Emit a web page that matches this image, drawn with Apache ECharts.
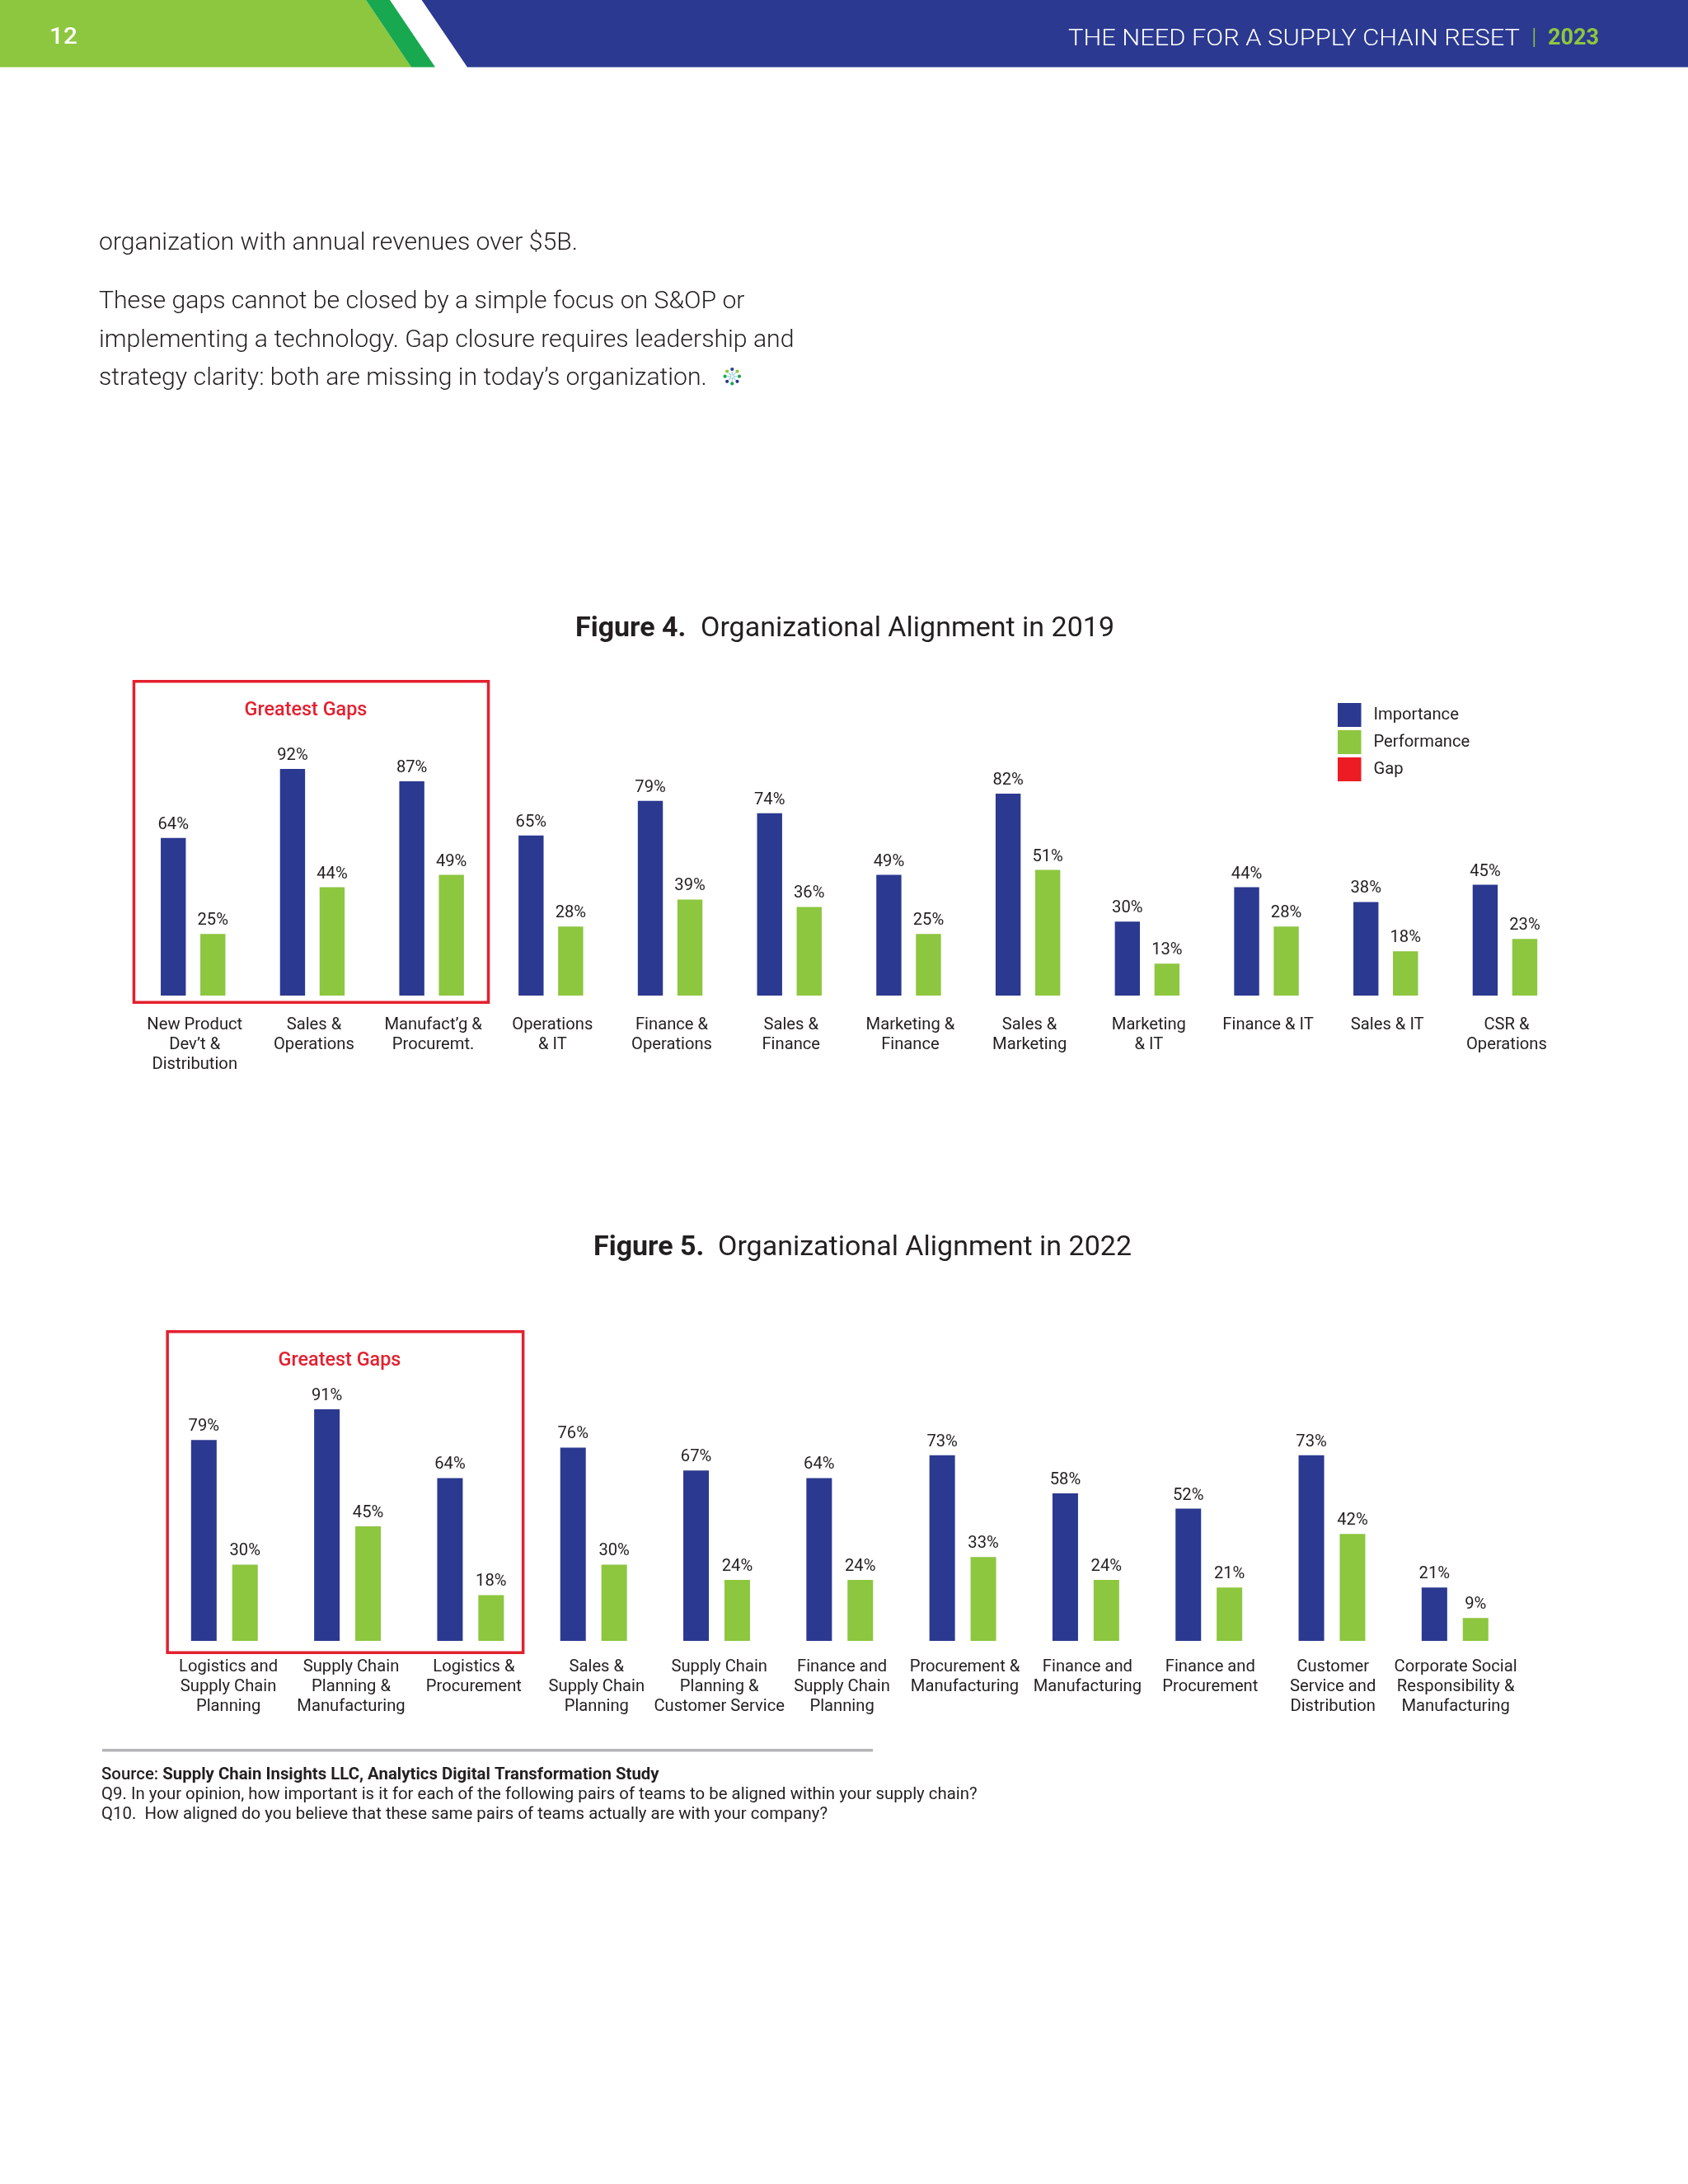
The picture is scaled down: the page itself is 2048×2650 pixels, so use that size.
<!DOCTYPE html>
<html>
<head>
<meta charset="utf-8">
<style>html,body{margin:0;padding:0;background:#fff}#c{width:2048px;height:2650px}</style>
<script src="https://cdn.jsdelivr.net/npm/echarts@6/dist/echarts.min.js"></script>
</head>
<body>
<div id="c"></div>
<script>
const categories2019 = ["New Product\nDev’t &\nDistribution","Sales &\nOperations","Manufact’g &\nProcuremt.","Operations\n& IT","Finance &\nOperations","Sales &\nFinance","Marketing &\nFinance","Sales &\nMarketing","Marketing\n& IT","Finance & IT","Sales & IT","CSR &\nOperations"];
const importance2019 = [64,92,87,65,79,74,49,82,30,44,38,45];
const performance2019 = [25,44,49,28,39,36,25,51,13,28,18,23];
const categories2022 = ["Logistics and\nSupply Chain\nPlanning","Supply Chain\nPlanning &\nManufacturing","Logistics &\nProcurement","Sales &\nSupply Chain\nPlanning","Supply Chain\nPlanning &\nCustomer Service","Finance and\nSupply Chain\nPlanning","Procurement &\nManufacturing","Finance and\nManufacturing","Finance and\nProcurement","Customer\nService and\nDistribution","Corporate Social\nResponsibility &\nManufacturing"];
const importance2022 = [79,91,64,76,67,64,73,58,52,73,21];
const performance2022 = [30,45,18,30,24,24,33,24,21,42,9];

const BLUE='#2b3990', GREEN='#8dc63f', DGREEN='#18a84f', RED='#ed1c24', BOX='#e3202f', INK='#231f20';
const FONT='Roboto';
const chart = echarts.init(document.getElementById('c'), null, {width:2048,height:2650,renderer:'canvas'});

function xAxis(idx, cats, margin, shift, showLabel){
  return {type:'category',gridIndex:idx,data:cats,axisLine:{show:false},axisTick:{show:false},splitLine:{show:false},
    axisLabel:{show:showLabel,interval:0,margin:margin,lineHeight:24,fontFamily:FONT,fontSize:20.2,color:INK,hideOverlap:false,padding:[0,0,0,shift]}};
}
function yAxis(idx){ return {type:'value',gridIndex:idx,min:0,max:100,show:false,splitLine:{show:false}}; }
function bar(name,idx,data,color,gap,width){
  return {name:name,type:'bar',xAxisIndex:idx,yAxisIndex:idx,data:data,barWidth:width,barGap:gap,
    itemStyle:{color:color},silent:true,animation:false,
    label:{show:true,position:'top',distance:6,formatter:'{c}%',fontFamily:FONT,fontSize:20.2,color:INK}};
}
function txt(t,x,y,size,opts){
  opts=opts||{};
  return {type:'text',x:x,y:y+size*0.1,scaleX:opts.sx||1,silent:true,style:Object.assign({text:t,fontFamily:FONT,fontSize:size,fontWeight:opts.w||400,fill:opts.c||INK,textAlign:opts.a||'left',textVerticalAlign:'middle'},opts.extra||{})};
}
function poly(points,color){ return {type:'polygon',silent:true,shape:{points:points},style:{fill:color}}; }
function box(l,t,r,b){ return {type:'rect',silent:true,shape:{x:l+1.75,y:t+1.75,width:r-l-3.5,height:b-t-3.5},style:{fill:'none',stroke:BOX,lineWidth:3.5}}; }
function sparkle(cx,cy){
  const out=[];
  const cols=[DGREEN,BLUE,GREEN,BLUE,DGREEN,GREEN,BLUE,GREEN];
  const order=[0,1,2,3,4,5,6,7];
  order.forEach(function(i){
    const a=i/8*Math.PI*2, sa=Math.sin(a), ca=Math.cos(a);
    let col=cols[i];
    if(i===2) col=DGREEN;
    if(i===6) col=BLUE;
    out.push({type:'line',silent:true,shape:{x1:cx+ca*1.5,y1:cy+sa*1.5,x2:cx+ca*6,y2:cy+sa*6},style:{stroke:'#8cc8dc',lineWidth:1.1}});
    out.push({type:'circle',silent:true,shape:{cx:cx+ca*8.7,cy:cy+sa*8.7,r:2.1},style:{fill:col}});
  });
  return out;
}

const graphics = [
  poly([[0,0],[444,0],[499,81.5],[0,81.5]],GREEN),
  poly([[444,0],[473,0],[528,81.5],[499,81.5]],DGREEN),
  poly([[511.6,0],[2048,0],[2048,81.5],[567,81.5]],BLUE),
  txt('12',60,44,27,{c:'#fff',w:500,sx:1.1}),
  txt('THE NEED FOR A SUPPLY CHAIN RESET',1296,46,27,{c:'#fff',sx:1.142,w:300}),
  {type:'rect',silent:true,shape:{x:1860.5,y:34,width:1.6,height:23},style:{fill:GREEN}},
  txt('2023',1878,45,27,{c:GREEN,w:700}),
  txt('organization with annual revenues over $5B.',120,292,30.2,{w:300}),
  txt('These gaps cannot be closed by a simple focus on S&OP or',120,363,30.2,{w:300}),
  txt('implementing a technology. Gap closure requires leadership and',120,410,30.2,{w:300}),
  txt('strategy clarity: both are missing in today’s organization.',120,456,30.2,{w:300}),
  ...sparkle(888.3,456.7),
  txt('Figure 4.',698,760,34,{w:700}),
  txt('Organizational Alignment in 2019',850,760,34),
  txt('Figure 5.',720,1511,34,{w:700}),
  txt('Organizational Alignment in 2022',871,1511,34),
  box(160.7,825,594.3,1218),
  txt('Greatest Gaps',371,860,23.4,{c:BOX,w:500,a:'center'}),
  box(201.4,1614,636.4,2007),
  txt('Greatest Gaps',412,1649,23.4,{c:BOX,w:500,a:'center'}),
  {type:'rect',silent:true,shape:{x:124,y:2122,width:935,height:3.5},style:{fill:'#b5b5b8'}},
  {type:'text',x:123,y:2154,silent:true,style:{text:'{n|Source: }{b|Supply Chain Insights LLC, Analytics Digital Transformation Study}',textVerticalAlign:'middle',rich:{
    n:{fontFamily:FONT,fontSize:20.4,fontWeight:500,fill:INK,color:INK},
    b:{fontFamily:FONT,fontSize:20.4,fontWeight:700,fill:INK,color:INK}}}},
  txt('Q9. In your opinion, how important is it for each of the following pairs of teams to be aligned within your supply chain?',123,2176,20.4),
  txt('Q10.  How aligned do you believe that these same pairs of teams actually are with your company?',123,2200,20.4)
];

chart.setOption({
  animation:false,
  backgroundColor:'#fff',
  textStyle:{fontFamily:FONT},
  grid:[
    {left:161.9,top:909.1,width:1736.4,height:298.9,containLabel:false},
    {left:197.65,top:1682.3,width:1642.3,height:308.7,containLabel:false},
    {left:202.65,top:1682.3,width:1637.9,height:308.7,containLabel:false}
  ],
  xAxis:[xAxis(0,categories2019,23.5,4,true),xAxis(1,categories2022,19.5,0,false),xAxis(2,categories2022,19.5,0,true)],
  yAxis:[yAxis(0),yAxis(1),yAxis(2)],
  legend:{show:true,orient:'vertical',left:1623,top:853,padding:0,itemWidth:28.5,itemHeight:29,itemGap:4,selectedMode:false,
    textStyle:{fontFamily:FONT,fontSize:20.2,color:INK,padding:[3,0,0,10]},
    data:[{name:'Importance',icon:'rect'},{name:'Performance',icon:'rect'},{name:'Gap',icon:'rect'}]},
  series:[
    bar('Importance',0,importance2019,BLUE,'58%',30.4),
    bar('Performance',0,performance2019,GREEN,'58%',30.4),
    bar('Importance',1,importance2022,BLUE,'61%',31),
    bar('Performance',1,performance2022,GREEN,'61%',31),
    {name:'Gap',type:'line',xAxisIndex:0,yAxisIndex:0,data:[],itemStyle:{color:RED},lineStyle:{color:RED}}
  ],
  graphic:{elements:graphics}
});
</script>
</body>
</html>
